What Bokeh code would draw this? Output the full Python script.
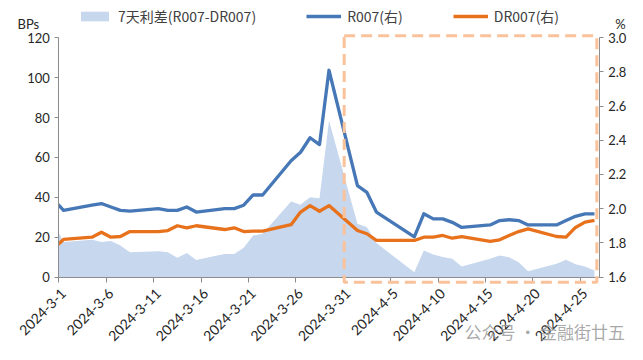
import math
import pandas as pd
from bokeh.plotting import figure
from bokeh.models import (Range1d, LinearAxis, FixedTicker, Legend, LegendItem, Label,
                          BoxAnnotation, PrintfTickFormatter)
from bokeh.embed import file_html
from bokeh.resources import INLINE

# ---- data ----
dates = ["2024-02-29", "2024-03-01", "2024-03-04", "2024-03-05", "2024-03-06", "2024-03-07",
         "2024-03-08", "2024-03-11", "2024-03-12", "2024-03-13", "2024-03-14", "2024-03-15",
         "2024-03-18", "2024-03-19", "2024-03-20", "2024-03-21", "2024-03-22", "2024-03-25",
         "2024-03-26", "2024-03-27", "2024-03-28", "2024-03-29", "2024-04-01", "2024-04-02",
         "2024-04-03", "2024-04-07", "2024-04-08", "2024-04-09", "2024-04-10", "2024-04-11",
         "2024-04-12", "2024-04-15", "2024-04-16", "2024-04-17", "2024-04-18", "2024-04-19",
         "2024-04-22", "2024-04-23", "2024-04-24", "2024-04-25", "2024-04-26"]

r007 = [2.05, 1.99, 2.02, 2.03, 2.01, 1.99, 1.985, 2.00, 1.99, 1.99, 2.01, 1.98, 2.00, 2.00,
        2.02, 2.08, 2.08, 2.28, 2.33, 2.415, 2.375, 2.81, 2.135, 2.095, 1.98, 1.835, 1.97,
        1.94, 1.94, 1.92, 1.89, 1.905, 1.93, 1.935, 1.93, 1.905, 1.905, 1.93, 1.955, 1.97, 1.97]

dr007 = [1.77, 1.82, 1.833, 1.862, 1.833, 1.837, 1.866, 1.866, 1.872, 1.90, 1.888, 1.90, 1.878,
         1.888, 1.866, 1.868, 1.868, 1.906, 1.98, 2.018, 1.985, 2.018, 1.872, 1.853, 1.814,
         1.814, 1.833, 1.833, 1.843, 1.827, 1.837, 1.808, 1.818, 1.843, 1.866, 1.882, 1.837,
         1.833, 1.89, 1.921, 1.931]

spread_bp = [27, 17.5, 18.7, 17.5, 18, 15.8, 12.4, 12.9, 12.4, 9.6, 12, 8.5, 11.6, 11.6, 14.7,
             20.8, 21.7, 37.9, 36.2, 40, 39.5, 78.5, 26.7, 25, 17, 2.4, 13.3, 11.3, 10, 9.1,
             5.3, 9.1, 10.8, 9.9, 7.4, 2.9, 6.6, 8.6, 6.4, 5.3, 3.3]

tick_dates = ["2024-03-01", "2024-03-06", "2024-03-11", "2024-03-16", "2024-03-21", "2024-03-26",
              "2024-03-31", "2024-04-05", "2024-04-10", "2024-04-15", "2024-04-20", "2024-04-25"]
tick_labels = ["2024-3-1", "2024-3-6", "2024-3-11", "2024-3-16", "2024-3-21", "2024-3-26",
               "2024-3-31", "2024-4-5", "2024-4-10", "2024-4-15", "2024-4-20", "2024-4-25"]
left_ticks = [0, 20, 40, 60, 80, 100, 120]
right_ticks = [1.6, 1.8, 2.0, 2.2, 2.4, 2.6, 2.8, 3.0]

legend_labels = ["7天利差(R007-DR007)", "R007(右)", "DR007(右)"]
highlight_start, highlight_end = "2024-03-31", "2024-04-26"

# ---- conversion of dates to day offsets ----
base = pd.Timestamp("2024-03-01")
x = [(pd.Timestamp(d) - base).days for d in dates]
tick_x = [(pd.Timestamp(d) - base).days for d in tick_dates]
hl0 = (pd.Timestamp(highlight_start) - base).days
hl1 = (pd.Timestamp(highlight_end) - base).days

# ---- layout: the frame fills the whole canvas, axes are drawn at fixed locations ----
W, H = 635, 352
PL, PR, PT, PB = 58.3, 598.7, 37.3, 276.5        # plot-area edges in canvas pixels
X0, X1 = -0.5, 56.5                               # day span of the plot area
Y0, Y1 = 0, 120                                   # left axis span
R0, R1 = 1.6, 3.0                                 # right axis span
sx = (X1 - X0) / (PR - PL)
sy = (Y1 - Y0) / (PB - PT)
sr = (R1 - R0) / (PB - PT)
x_range = Range1d(X0 - PL * sx, X1 + (W - PR) * sx)
y_range = Range1d(Y0 - (H - PB) * sy, Y1 + PT * sy)
r_range = Range1d(R0 - (H - PB) * sr, R1 + PT * sr)

BLUE = "#4677B6"
ORANGE = "#E8711C"
AREA = "#C6D7EE"
AXIS = "#8C8C8C"
TXT = "#262626"
FONT = "Lato"

p = figure(width=W, height=H, x_range=x_range, y_range=y_range,
           output_backend="svg", toolbar_location=None,
           x_axis_location=None, y_axis_location=None,
           min_border_left=0, min_border_right=0, min_border_top=0, min_border_bottom=0)
p.extra_y_ranges = {"r": r_range}
p.outline_line_color = None
p.xgrid.visible = False
p.ygrid.visible = False
p.background_fill_color = "white"
p.border_fill_color = "white"

area = p.varea(x=x, y1=0, y2=spread_bp, fill_color=AREA)
rl = p.line(x=x, y=r007, y_range_name="r", line_color=BLUE, line_width=3.3, line_join="round")
dl = p.line(x=x, y=dr007, y_range_name="r", line_color=ORANGE, line_width=3.3, line_join="round")

# mask everything left of the left axis (the series starts one trading day before the axis)
p.add_layout(BoxAnnotation(right=X0, fill_color="white", fill_alpha=1, line_color=None,
                           level="glyph"))

# x axis
xa = LinearAxis(fixed_location=0, bounds=(X0, X1))
xa.ticker = FixedTicker(ticks=tick_x, minor_ticks=[t - 0.5 for t in tick_x])
xa.major_label_overrides = {t: lab for t, lab in zip(tick_x, tick_labels)}
xa.major_label_orientation = math.pi / 4
xa.major_tick_line_color = None
xa.minor_tick_line_color = AXIS
xa.minor_tick_in = 0
xa.minor_tick_out = 5
xa.axis_line_color = AXIS
xa.major_label_text_font = FONT
xa.major_label_text_font_size = "14px"
xa.major_label_text_color = TXT
xa.major_label_standoff = 8
p.add_layout(xa, "below")

# left axis
ya = LinearAxis(fixed_location=X0, bounds=(Y0, Y1), ticker=FixedTicker(ticks=left_ticks))
ya.major_tick_in = 0
ya.major_tick_out = 4
ya.minor_tick_line_color = None
ya.axis_line_color = AXIS
ya.major_tick_line_color = AXIS
ya.major_label_text_font = FONT
ya.major_label_text_font_size = "13px"
ya.major_label_text_color = TXT
ya.major_label_standoff = 5
p.add_layout(ya, "left")

# right axis
ra = LinearAxis(y_range_name="r", fixed_location=X1, bounds=(R0, R1),
                ticker=FixedTicker(ticks=right_ticks),
                formatter=PrintfTickFormatter(format="%.1f"))
ra.major_tick_in = 0
ra.major_tick_out = 4
ra.minor_tick_line_color = None
ra.axis_line_color = AXIS
ra.major_tick_line_color = AXIS
ra.major_label_text_font = FONT
ra.major_label_text_font_size = "13px"
ra.major_label_text_color = TXT
ra.major_label_standoff = 5
p.add_layout(ra, "right")

# dashed highlight box
p.add_layout(BoxAnnotation(left=hl0 - 0.4, right=hl1 + 0.25, bottom=-2.6, top=121,
                           fill_color=None, fill_alpha=0, line_color="#F9C29A", line_alpha=1,
                           line_width=3, line_dash="11 6"))

# unit labels and watermark (screen units from the canvas bottom-left)
p.add_layout(Label(x=17, y=H - 23, x_units="screen", y_units="screen", text="BPs",
                   text_font=FONT, text_font_size="13px", text_color=TXT,
                   text_baseline="middle"))
p.add_layout(Label(x=620, y=H - 23, x_units="screen", y_units="screen", text="%",
                   text_font=FONT, text_font_size="13px", text_color=TXT,
                   text_baseline="middle", text_align="center"))
p.add_layout(Label(x=464, y=H - 331, x_units="screen", y_units="screen",
                   text="公众号 · 金融街廿五",
                   text_font="Noto Sans CJK SC", text_font_size="17px", text_color="#9a9a9a",
                   text_alpha=0.85, text_baseline="middle"))

# legend
legend = Legend(items=[LegendItem(label=legend_labels[0], renderers=[area]),
                       LegendItem(label=legend_labels[1], renderers=[rl]),
                       LegendItem(label=legend_labels[2], renderers=[dl])],
                orientation="horizontal", location=(77, H - 26),
                glyph_width=35, glyph_height=12, label_height=12,
                padding=0, margin=0, spacing=50, label_standoff=6,
                border_line_color=None, background_fill_alpha=0,
                label_text_font="Noto Sans CJK SC", label_text_font_size="14px",
                label_text_color="#404040")
p.add_layout(legend)

open("out.html", "w").write(file_html(p, INLINE))
